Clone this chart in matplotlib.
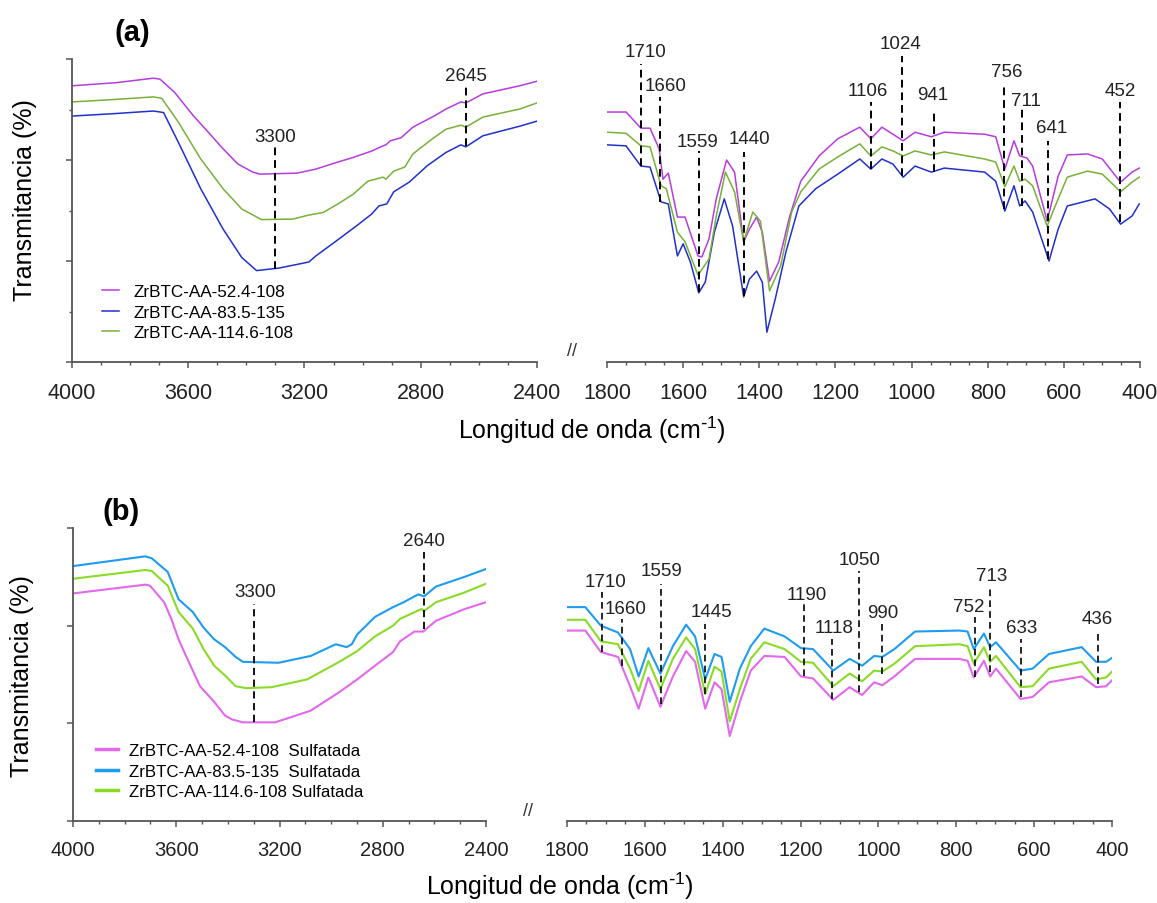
import numpy as np
import matplotlib
matplotlib.use("Agg")
from matplotlib import pyplot as plt
from matplotlib.ticker import MultipleLocator

plt.rcParams['font.family'] = ['Liberation Sans', 'DejaVu Sans']
plt.rcParams['mathtext.default'] = 'regular'

# ---------------- datos (a) ----------------
labels_a = ["ZrBTC-AA-52.4-108", "ZrBTC-AA-83.5-135", "ZrBTC-AA-114.6-108"]
colors_a = ["#B83BE0", "#2030CC", "#78B038"]

# zona 4000-2400
a_l_wn_mag = [4000, 3850, 3720, 3697, 3647, 3583, 3531, 3480, 3429, 3378, 3353, 3226, 3161, 3085, 3033, 2968, 2930, 2920, 2905, 2868, 2827, 2751, 2713, 2662, 2645, 2586, 2459, 2400]
a_l_mag = [54.7, 55.3, 56.2, 56.0, 53.4, 48.8, 45.5, 42.2, 39.2, 37.6, 37.2, 37.4, 38.2, 39.6, 40.5, 41.8, 42.8, 43.0, 43.8, 44.4, 46.5, 48.8, 50.1, 51.5, 51.3, 53.1, 54.7, 55.6]
a_l_wn_blue = [4000, 3850, 3720, 3685, 3634, 3557, 3480, 3416, 3365, 3288, 3185, 3161, 3097, 3020, 2969, 2944, 2917, 2893, 2840, 2777, 2713, 2662, 2645, 2586, 2459, 2400]
a_l_blue = [48.7, 49.2, 49.7, 49.4, 43.5, 34.3, 26.3, 20.7, 18.1, 18.6, 19.8, 21.0, 23.7, 27.0, 29.3, 30.9, 31.3, 33.7, 35.6, 38.9, 41.5, 43.0, 42.6, 44.8, 46.7, 47.7]
a_l_wn_grn = [4000, 3850, 3720, 3691, 3634, 3557, 3480, 3416, 3348, 3240, 3185, 3136, 3085, 3033, 2982, 2930, 2920, 2893, 2855, 2827, 2760, 2713, 2662, 2645, 2586, 2459, 2400]
a_l_grn = [51.5, 52.0, 52.5, 52.2, 47.5, 40.2, 34.3, 30.3, 28.2, 28.3, 29.1, 29.6, 31.3, 33.2, 35.8, 36.6, 36.2, 37.8, 38.6, 41.2, 44.2, 46.1, 46.9, 46.5, 48.5, 50.1, 51.3]

# zona 1800-400
a_r_wn_mag = [1800, 1750, 1711, 1687, 1663, 1653, 1639, 1615, 1595, 1561, 1551, 1532, 1513, 1486, 1465, 1441, 1426, 1407, 1392, 1373, 1349, 1320, 1291, 1243, 1194, 1136, 1107, 1078, 1049, 1022, 991, 948, 914, 808, 779, 755, 731, 716, 697, 682, 644, 615, 591, 538, 499, 451, 421, 402]
a_r_mag = [49.5, 49.5, 46.3, 46.3, 42.2, 36.2, 37.4, 28.7, 28.7, 21.0, 20.8, 24.4, 32.3, 40.0, 37.6, 23.8, 26.3, 28.7, 25.7, 16.0, 19.8, 28.9, 35.8, 40.8, 44.2, 46.5, 44.2, 46.5, 45.1, 43.8, 45.5, 44.6, 45.5, 45.1, 44.6, 38.2, 43.8, 40.8, 40.4, 38.8, 27.9, 36.8, 41.0, 41.2, 40.2, 35.6, 37.6, 38.4]
a_r_wn_blue = [1800, 1750, 1711, 1687, 1658, 1639, 1615, 1600, 1581, 1559, 1542, 1518, 1492, 1470, 1441, 1426, 1407, 1392, 1380, 1358, 1330, 1296, 1252, 1194, 1136, 1107, 1078, 1049, 1022, 991, 948, 914, 808, 779, 755, 731, 716, 702, 682, 639, 615, 591, 518, 480, 451, 421, 402]
a_r_blue = [43.0, 42.8, 38.8, 38.6, 31.7, 31.3, 21.0, 23.4, 19.8, 13.7, 15.8, 25.7, 32.3, 26.9, 12.9, 16.4, 18.0, 15.8, 5.9, 12.5, 21.8, 30.9, 34.3, 37.2, 40.2, 38.2, 40.2, 39.2, 36.6, 38.8, 37.6, 38.4, 37.6, 35.8, 29.9, 34.9, 30.9, 31.9, 29.7, 20.0, 26.3, 30.9, 32.3, 30.3, 27.3, 28.9, 31.3]
a_r_wn_grn = [1800, 1750, 1711, 1687, 1658, 1644, 1615, 1595, 1561, 1532, 1513, 1489, 1465, 1441, 1417, 1397, 1373, 1344, 1315, 1291, 1243, 1194, 1136, 1107, 1078, 1049, 1022, 991, 948, 914, 808, 779, 755, 731, 716, 702, 682, 644, 615, 591, 538, 499, 451, 421, 402]
a_r_grn = [45.5, 45.3, 42.8, 42.6, 34.9, 34.3, 25.7, 23.8, 17.2, 20.4, 28.9, 37.6, 33.7, 23.8, 29.7, 27.9, 14.1, 19.0, 29.7, 33.7, 38.2, 40.6, 43.2, 40.8, 42.6, 41.8, 40.8, 41.8, 41.0, 41.6, 40.2, 39.6, 34.7, 38.8, 35.8, 36.2, 34.9, 26.9, 32.3, 36.6, 37.8, 37.2, 33.7, 35.6, 36.6]

# picos (a): posición, extremo superior e inferior de la línea, altura de la etiqueta
a_l_peaks = [3300, 2645]
a_l_peak_top = [43.2, 55.0]
a_l_peak_bot = [18.4, 42.8]
a_l_peak_lab = [44.6, 56.8]
a_l_peak_dx = [0, 0]
a_r_peaks = [1710, 1660, 1559, 1440, 1106, 1024, 941, 756, 711, 641, 452]
a_r_peak_top = [59.0, 52.5, 41.8, 41.6, 51.5, 60.6, 50.1, 54.7, 50.1, 43.8, 51.5]
a_r_peak_bot = [38.8, 31.7, 13.9, 13.1, 38.2, 36.8, 37.6, 30.3, 30.9, 20.4, 27.7]
a_r_peak_lab = [61.4, 54.7, 43.6, 44.2, 53.7, 63.0, 52.9, 57.6, 51.7, 46.5, 53.7]
a_r_peak_dx = [-12, -14, 4, -14, 9, 4, 4, -6, -11, -8, 0]

# ---------------- datos (b) ----------------
labels_b = ["ZrBTC-AA-52.4-108  Sulfatada", "ZrBTC-AA-83.5-135  Sulfatada", "ZrBTC-AA-114.6-108 Sulfatada"]
colors_b = ["#E268EC", "#1E9CF0", "#8ADB26"]

b_l_wn_blue = [4000, 3720, 3695, 3633, 3591, 3536, 3494, 3453, 3411, 3370, 3342, 3204, 3079, 2982, 2940, 2920, 2899, 2830, 2760, 2719, 2663, 2640, 2594, 2483, 2400]
b_l_blue = [26.1, 27.1, 26.9, 25.5, 22.7, 21.4, 19.8, 18.6, 17.8, 16.8, 16.3, 16.2, 16.9, 18.1, 17.8, 18.1, 19.1, 20.9, 21.9, 22.4, 23.2, 23.0, 24.0, 25.0, 25.8]
b_l_wn_grn = [4000, 3720, 3695, 3633, 3591, 3536, 3494, 3453, 3411, 3370, 3328, 3231, 3093, 2968, 2899, 2830, 2760, 2733, 2650, 2640, 2594, 2483, 2400]
b_l_grn = [24.8, 25.7, 25.6, 24.1, 21.4, 19.7, 17.6, 15.9, 14.9, 13.8, 13.6, 13.7, 14.5, 16.3, 17.4, 18.9, 20.0, 20.7, 21.7, 21.5, 22.4, 23.4, 24.3]
b_l_wn_mag = [4000, 3720, 3702, 3647, 3619, 3591, 3550, 3508, 3453, 3411, 3384, 3342, 3217, 3079, 2968, 2899, 2830, 2760, 2733, 2677, 2643, 2594, 2483, 2400]
b_l_mag = [23.3, 24.2, 24.1, 22.4, 20.7, 18.6, 16.2, 13.8, 12.2, 10.8, 10.4, 10.1, 10.1, 11.3, 13.2, 14.5, 15.9, 17.3, 18.4, 19.4, 19.4, 20.5, 21.7, 22.4]

b_r_wn = [1800, 1753, 1713, 1669, 1638, 1616, 1591, 1560, 1528, 1494, 1471, 1445, 1421, 1403, 1382, 1356, 1328, 1293, 1241, 1199, 1168, 1116, 1074, 1042, 1011, 990, 959, 906, 792, 771, 755, 729, 713, 698, 635, 604, 562, 478, 441, 415, 400]
b_r_blue = [21.9, 21.9, 20.0, 19.3, 17.6, 14.8, 17.7, 15.1, 17.9, 20.1, 18.9, 14.5, 17.1, 16.8, 12.2, 15.6, 17.9, 19.7, 18.9, 17.7, 17.6, 15.4, 16.6, 15.9, 16.9, 16.8, 17.6, 19.4, 19.5, 19.4, 17.6, 19.2, 17.8, 18.3, 15.4, 15.6, 17.1, 17.8, 16.3, 16.3, 16.7]
b_r_grn = [20.6, 20.6, 18.4, 18.1, 15.6, 13.3, 16.4, 13.5, 16.6, 18.8, 17.6, 13.0, 15.8, 15.3, 10.2, 13.5, 16.6, 18.3, 17.6, 16.3, 16.2, 13.8, 15.1, 14.3, 15.4, 15.3, 16.1, 17.9, 18.1, 17.9, 16.1, 17.8, 16.3, 16.9, 13.7, 13.8, 15.6, 16.3, 14.5, 14.7, 15.3]
b_r_mag = [19.5, 19.5, 17.3, 16.8, 13.8, 11.5, 14.7, 11.7, 14.8, 17.4, 16.3, 11.5, 14.2, 13.5, 8.7, 12.2, 15.4, 16.9, 16.8, 14.8, 14.6, 12.4, 13.7, 12.9, 14.2, 13.9, 14.8, 16.6, 16.6, 16.4, 14.7, 16.4, 14.8, 15.6, 12.5, 12.7, 14.2, 14.8, 13.7, 13.8, 14.4]

b_l_peaks = [3300, 2640]
b_l_peak_top = [22.2, 27.5]
b_l_peak_bot = [10.1, 19.7]
b_l_peak_lab = [23.5, 28.7]
b_l_peak_dx = [-5, 0]
b_r_peaks = [1710, 1660, 1559, 1445, 1190, 1118, 1050, 990, 752, 713, 633, 436]
b_r_peak_top = [23.4, 20.7, 24.3, 20.2, 22.2, 18.6, 25.6, 20.4, 20.9, 24.1, 18.6, 19.5]
b_r_peak_bot = [17.3, 15.9, 12.0, 13.0, 14.8, 12.5, 13.2, 15.1, 14.7, 15.3, 12.7, 14.0]
b_r_peak_lab = [24.5, 21.8, 25.6, 21.4, 23.2, 19.8, 26.8, 21.3, 22.0, 25.1, 19.8, 20.7]
b_r_peak_dx = [-10, -10, -3, -16, -5, -5, -2, -2, 16, -3, 0, 3]

# ---------------- figura ----------------
W, H = 1157, 904
fig = plt.figure(figsize=(W / 100, H / 100), dpi=100)
xlabel = r"Longitud de onda (cm$^{\text{-}1}$)"


def caja(x0, x1, ytop, ybot):
    return [x0 / W, 1 - ybot / H, (x1 - x0) / W, (ybot - ytop) / H]


def estilo(ax, xlim, ylim, major, minor, ymajor, yminor, con_y, fs, pad):
    ax.set_xlim(*xlim)
    ax.set_ylim(*ylim)
    ax.xaxis.set_major_locator(MultipleLocator(major))
    ax.xaxis.set_minor_locator(MultipleLocator(minor))
    for s in ["top", "right"]:
        ax.spines[s].set_visible(False)
    for s in ["left", "bottom"]:
        ax.spines[s].set_color("#555555")
        ax.spines[s].set_linewidth(1.3)
    if con_y:
        ax.yaxis.set_major_locator(MultipleLocator(ymajor))
        if yminor:
            ax.yaxis.set_minor_locator(MultipleLocator(yminor))
        ax.set_yticklabels([])
    else:
        ax.spines["left"].set_visible(False)
        ax.set_yticks([])
    ax.tick_params(which="major", length=4.5, width=1.1, color="#555555", labelsize=fs,
                   pad=pad, labelcolor="#222222")
    ax.tick_params(which="minor", length=2.5, width=1.0, color="#555555")
    ax.patch.set_alpha(0)


def picos(ax, wn, top, bot, lab, dx, fs, lw):
    for w, t, b, l, d in zip(wn, top, bot, lab, dx):
        ax.plot([w, w], [b, t], color="black", lw=lw, ls=(0, (4, 2.5)), clip_on=False, zorder=5)
        ax.text(w + d, l, str(w), ha="center", va="center", fontsize=fs, color="#222222",
                clip_on=False)


# ---- (a) ----
ax_al = fig.add_axes(caja(72, 537, 60, 363))
ax_ar = fig.add_axes(caja(607, 1140, 60, 363))
estilo(ax_al, (4000, 2400), (0, 60), 400, 100, 20, 10, True, 15.5, 10)
estilo(ax_ar, (1800, 400), (0, 60), 200, 50, 20, 10, False, 15.5, 10)

lw_a = 1.1
la1, = ax_al.plot(a_l_wn_mag, a_l_mag, color=colors_a[0], lw=lw_a)
la2, = ax_al.plot(a_l_wn_blue, a_l_blue, color=colors_a[1], lw=lw_a)
la3, = ax_al.plot(a_l_wn_grn, a_l_grn, color=colors_a[2], lw=lw_a)
ax_ar.plot(a_r_wn_mag, a_r_mag, color=colors_a[0], lw=lw_a)
ax_ar.plot(a_r_wn_blue, a_r_blue, color=colors_a[1], lw=lw_a)
ax_ar.plot(a_r_wn_grn, a_r_grn, color=colors_a[2], lw=lw_a)

picos(ax_al, a_l_peaks, a_l_peak_top, a_l_peak_bot, a_l_peak_lab, a_l_peak_dx, 13.5, 1.4)
picos(ax_ar, a_r_peaks, a_r_peak_top, a_r_peak_bot, a_r_peak_lab, a_r_peak_dx, 13.5, 1.4)

ax_al.legend([la1, la2, la3], labels_a, loc="upper left", frameon=False,
             bbox_to_anchor=(102 / W, 1 - 285 / H), bbox_transform=fig.transFigure,
             borderpad=0, borderaxespad=0, fontsize=12.3, handlelength=1.0,
             handletextpad=0.85, labelspacing=0.33)

fig.text(132 / W, 1 - 33 / H, "(a)", fontsize=21, fontweight="bold", ha="center", va="center")
fig.text(25 / W, 1 - 200 / H, "Transmitancia (%)", rotation=90, fontsize=18,
         ha="center", va="center")
fig.text(592 / W, 1 - 430 / H, xlabel, fontsize=18, ha="center", va="center")
fig.text(572 / W, 1 - 352 / H, "//", fontsize=13, ha="center", va="center", color="#333333")

# ---- (b) ----
ax_bl = fig.add_axes(caja(73, 486, 529, 822))
ax_br = fig.add_axes(caja(567, 1112, 529, 822))
estilo(ax_bl, (4000, 2400), (0, 30), 400, 100, 10, None, True, 14.5, 9)
estilo(ax_br, (1800, 400), (0, 30), 200, 50, 10, None, False, 14.5, 9)

lw_b = 1.5
lb1, = ax_bl.plot(b_l_wn_mag, b_l_mag, color=colors_b[0], lw=lw_b)
lb2, = ax_bl.plot(b_l_wn_blue, b_l_blue, color=colors_b[1], lw=lw_b)
lb3, = ax_bl.plot(b_l_wn_grn, b_l_grn, color=colors_b[2], lw=lw_b)
ax_br.plot(b_r_wn, b_r_mag, color=colors_b[0], lw=lw_b)
ax_br.plot(b_r_wn, b_r_blue, color=colors_b[1], lw=lw_b)
ax_br.plot(b_r_wn, b_r_grn, color=colors_b[2], lw=lw_b)

picos(ax_bl, b_l_peaks, b_l_peak_top, b_l_peak_bot, b_l_peak_lab, b_l_peak_dx, 13.5, 1.3)
picos(ax_br, b_r_peaks, b_r_peak_top, b_r_peak_bot, b_r_peak_lab, b_r_peak_dx, 13.5, 1.2)

leg_b = ax_bl.legend([lb1, lb2, lb3], labels_b, loc="upper left", frameon=False,
                     bbox_to_anchor=(96 / W, 1 - 744 / H), bbox_transform=fig.transFigure,
                     borderpad=0, borderaxespad=0, fontsize=12.2, handlelength=1.3,
                     handletextpad=0.65, labelspacing=0.33)
for h in leg_b.legend_handles:
    h.set_linewidth(2.5)

fig.text(121 / W, 1 - 512 / H, "(b)", fontsize=21, fontweight="bold", ha="center", va="center")
fig.text(22 / W, 1 - 676 / H, "Transmitancia (%)", rotation=90, fontsize=18,
         ha="center", va="center")
fig.text(560 / W, 1 - 886 / H, xlabel, fontsize=18, ha="center", va="center")
fig.text(528 / W, 1 - 812 / H, "//", fontsize=13, ha="center", va="center", color="#333333")

fig.savefig("out.png", dpi=100)
